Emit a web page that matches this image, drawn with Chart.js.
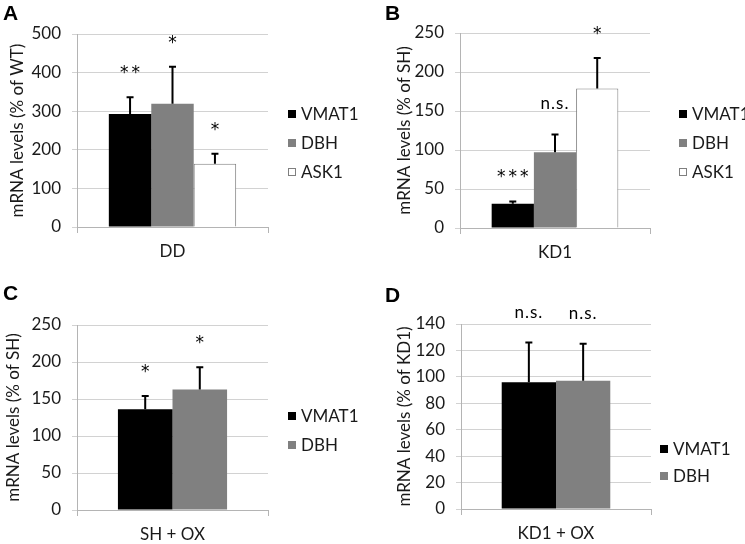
<!DOCTYPE html>
<html lang="en">
<head>
<meta charset="UTF-8">
<title>mRNA levels - four panels</title>
<script src="https://cdn.jsdelivr.net/npm/chart.js"></script>
<style>
    body { margin: 0; background: #fff; }
    canvas { position: absolute; }
    .letter {
        position: absolute;
        font: bold 21px "Liberation Sans", Arial, sans-serif;
        line-height: 21px;
        color: #000;
    }
</style>
</head>
<body>
<canvas id="chartA" width="372" height="272" style="left:0;top:0"></canvas>
<canvas id="chartB" width="373" height="272" style="left:372px;top:0"></canvas>
<canvas id="chartC" width="372" height="272" style="left:0;top:272px"></canvas>
<canvas id="chartD" width="373" height="272" style="left:372px;top:272px"></canvas>
<div class="letter" style="left:3px;top:2px">A</div>
<div class="letter" style="left:385px;top:2px">B</div>
<div class="letter" style="left:3px;top:282px">C</div>
<div class="letter" style="left:385px;top:284px">D</div>

<script>
// ---- data ----
const seriesNames = ['VMAT1', 'DBH', 'ASK1'];

const categoryA = ['DD'];
const meansA = [293, 319, 164];
const errorsA = [43, 96, 26];
const sigA = ['**', '*', '*'];
const yTicksA = [0, 100, 200, 300, 400, 500];

const categoryB = ['KD1'];
const meansB = [31, 97, 179];
const errorsB = [3, 23, 39];
const sigB = ['***', 'n.s.', '*'];
const yTicksB = [0, 50, 100, 150, 200, 250];

const categoryC = ['SH + OX'];
const meansC = [136, 163];
const errorsC = [18, 30];
const sigC = ['*', '*'];
const yTicksC = [0, 50, 100, 150, 200, 250];

const categoryD = ['KD1 + OX'];
const meansD = [96, 97];
const errorsD = [30, 28];
const sigD = ['n.s.', 'n.s.'];
const yTicksD = [0, 20, 40, 60, 80, 100, 120, 140];

// ---- styles ----
const FONT = 'Lato, "Open Sans", sans-serif';
const SIZE = 17;
const TEXT = '#1a1a1a';
const GRID = '#d2d2d2';
const AXIS = '#b4b4b4';
const fills = ['#000000', '#808080', '#ffffff'];
const borders = ['#000000', '#808080', '#7f7f7f'];

// error bars + significance marks, read from the bar elements
const errorBarPlugin = {
    id: 'errorBars',
    afterDatasetsDraw(chart) {
        const { ctx } = chart;
        const y = chart.scales.y;
        const cfg = chart.options.plugins.errorBars;
        ctx.save();
        chart.data.datasets.forEach((ds, i) => {
            chart.getDatasetMeta(i).data.forEach((bar, j) => {
                const top = y.getPixelForValue(ds.data[j] + cfg.errors[i]);
                ctx.strokeStyle = '#000';
                ctx.lineWidth = 2;
                ctx.beginPath();
                ctx.moveTo(bar.x, bar.y);
                ctx.lineTo(bar.x, top);
                ctx.moveTo(bar.x - 3.5, top);
                ctx.lineTo(bar.x + 3.5, top);
                ctx.stroke();

                const label = cfg.sig[i];
                const stars = /^\*+$/.test(label);
                ctx.fillStyle = '#000';
                ctx.textAlign = 'center';
                ctx.textBaseline = 'alphabetic';
                if (stars) {
                    ctx.font = '17px "DejaVu Sans", sans-serif';
                    ctx.letterSpacing = '3px';
                    ctx.fillText(label, bar.x + 1.5, top - 19);
                } else {
                    ctx.font = SIZE + 'px ' + FONT;
                    ctx.letterSpacing = '1px';
                    ctx.fillText(label, bar.x, top - 25);
                }
            });
        });
        ctx.restore();
    }
};

// legend drawn beside the plot
const sideLegendPlugin = {
    id: 'sideLegend',
    afterDraw(chart) {
        const { ctx } = chart;
        const cfg = chart.options.plugins.sideLegend;
        ctx.save();
        ctx.font = SIZE + 'px ' + FONT;
        ctx.textAlign = 'left';
        ctx.textBaseline = 'middle';
        chart.data.datasets.forEach((ds, i) => {
            const cy = cfg.ys[i];
            ctx.fillStyle = ds.backgroundColor;
            ctx.fillRect(cfg.x, cy - 4, 8, 8);
            if (ds.backgroundColor === '#ffffff') {
                ctx.strokeStyle = '#7f7f7f';
                ctx.lineWidth = 1;
                ctx.strokeRect(cfg.x + 0.5, cy - 3.5, 7, 7);
            }
            ctx.fillStyle = TEXT;
            ctx.fillText(ds.label, cfg.x + 13, cy + 1);
        });
        ctx.restore();
    }
};

function makePanel(id, category, means, errors, sig, yTicks, yTitle, g) {
    const W = document.getElementById(id).width;
    const H = 272;
    const n = means.length;
    const datasets = means.map((v, i) => ({
        label: seriesNames[i],
        data: [v],
        backgroundColor: fills[i],
        borderColor: borders[i],
        borderWidth: i === 2 ? 1 : 0
    }));
    return new Chart(document.getElementById(id), {
        type: 'bar',
        data: { labels: category, datasets: datasets },
        plugins: [errorBarPlugin, sideLegendPlugin],
        options: {
            responsive: false,
            animation: false,
            events: [],
            layout: { padding: { left: 0, right: W - g.right, top: g.top, bottom: 0 } },
            datasets: { bar: { categoryPercentage: n / (n + 1.5), barPercentage: 1 } },
            plugins: {
                legend: { display: false },
                tooltip: { enabled: false },
                errorBars: { errors: errors, sig: sig },
                sideLegend: { x: g.legendX, ys: g.legendYs }
            },
            scales: {
                x: {
                    offset: true,
                    grid: { offset: true, drawOnChartArea: false, drawTicks: true, tickLength: 6, color: AXIS },
                    border: { display: true, color: AXIS },
                    ticks: { font: { family: FONT, size: SIZE }, color: TEXT, padding: 8 },
                    afterFit: s => { s.height = H - g.bottom; }
                },
                y: {
                    min: yTicks[0],
                    max: yTicks[yTicks.length - 1],
                    ticks: { stepSize: yTicks[1] - yTicks[0], font: { family: FONT, size: SIZE }, color: TEXT, padding: 11 },
                    grid: { color: GRID, tickLength: 5, drawTicks: true },
                    border: { display: true, color: AXIS },
                    title: {
                        display: true,
                        text: yTitle,
                        font: { family: FONT, size: SIZE },
                        color: TEXT,
                        padding: { top: g.titleX - SIZE * 0.6, bottom: 0 }
                    },
                    afterFit: s => { s.width = g.left; }
                }
            }
        }
    });
}

makePanel('chartA', categoryA, meansA, errorsA, sigA, yTicksA, 'mRNA levels (% of WT)',
    { left: 77, right: 268, top: 34, bottom: 227, titleX: 18, legendX: 288, legendYs: [114, 143, 172] });
makePanel('chartB', categoryB, meansB, errorsB, sigB, yTicksB, 'mRNA levels (% of SH)',
    { left: 88, right: 278, top: 33, bottom: 228, titleX: 33, legendX: 307, legendYs: [114, 143, 172] });
makePanel('chartC', categoryC, meansC, errorsC, sigC, yTicksC, 'mRNA levels (% of SH)',
    { left: 77, right: 268, top: 53, bottom: 238, titleX: 14, legendX: 288, legendYs: [144, 173] });
makePanel('chartD', categoryD, meansD, errorsD, sigD, yTicksD, 'mRNA levels (% of KD1)',
    { left: 89, right: 279, top: 52, bottom: 237, titleX: 33, legendX: 288, legendYs: [177, 204] });
</script>
</body>
</html>
